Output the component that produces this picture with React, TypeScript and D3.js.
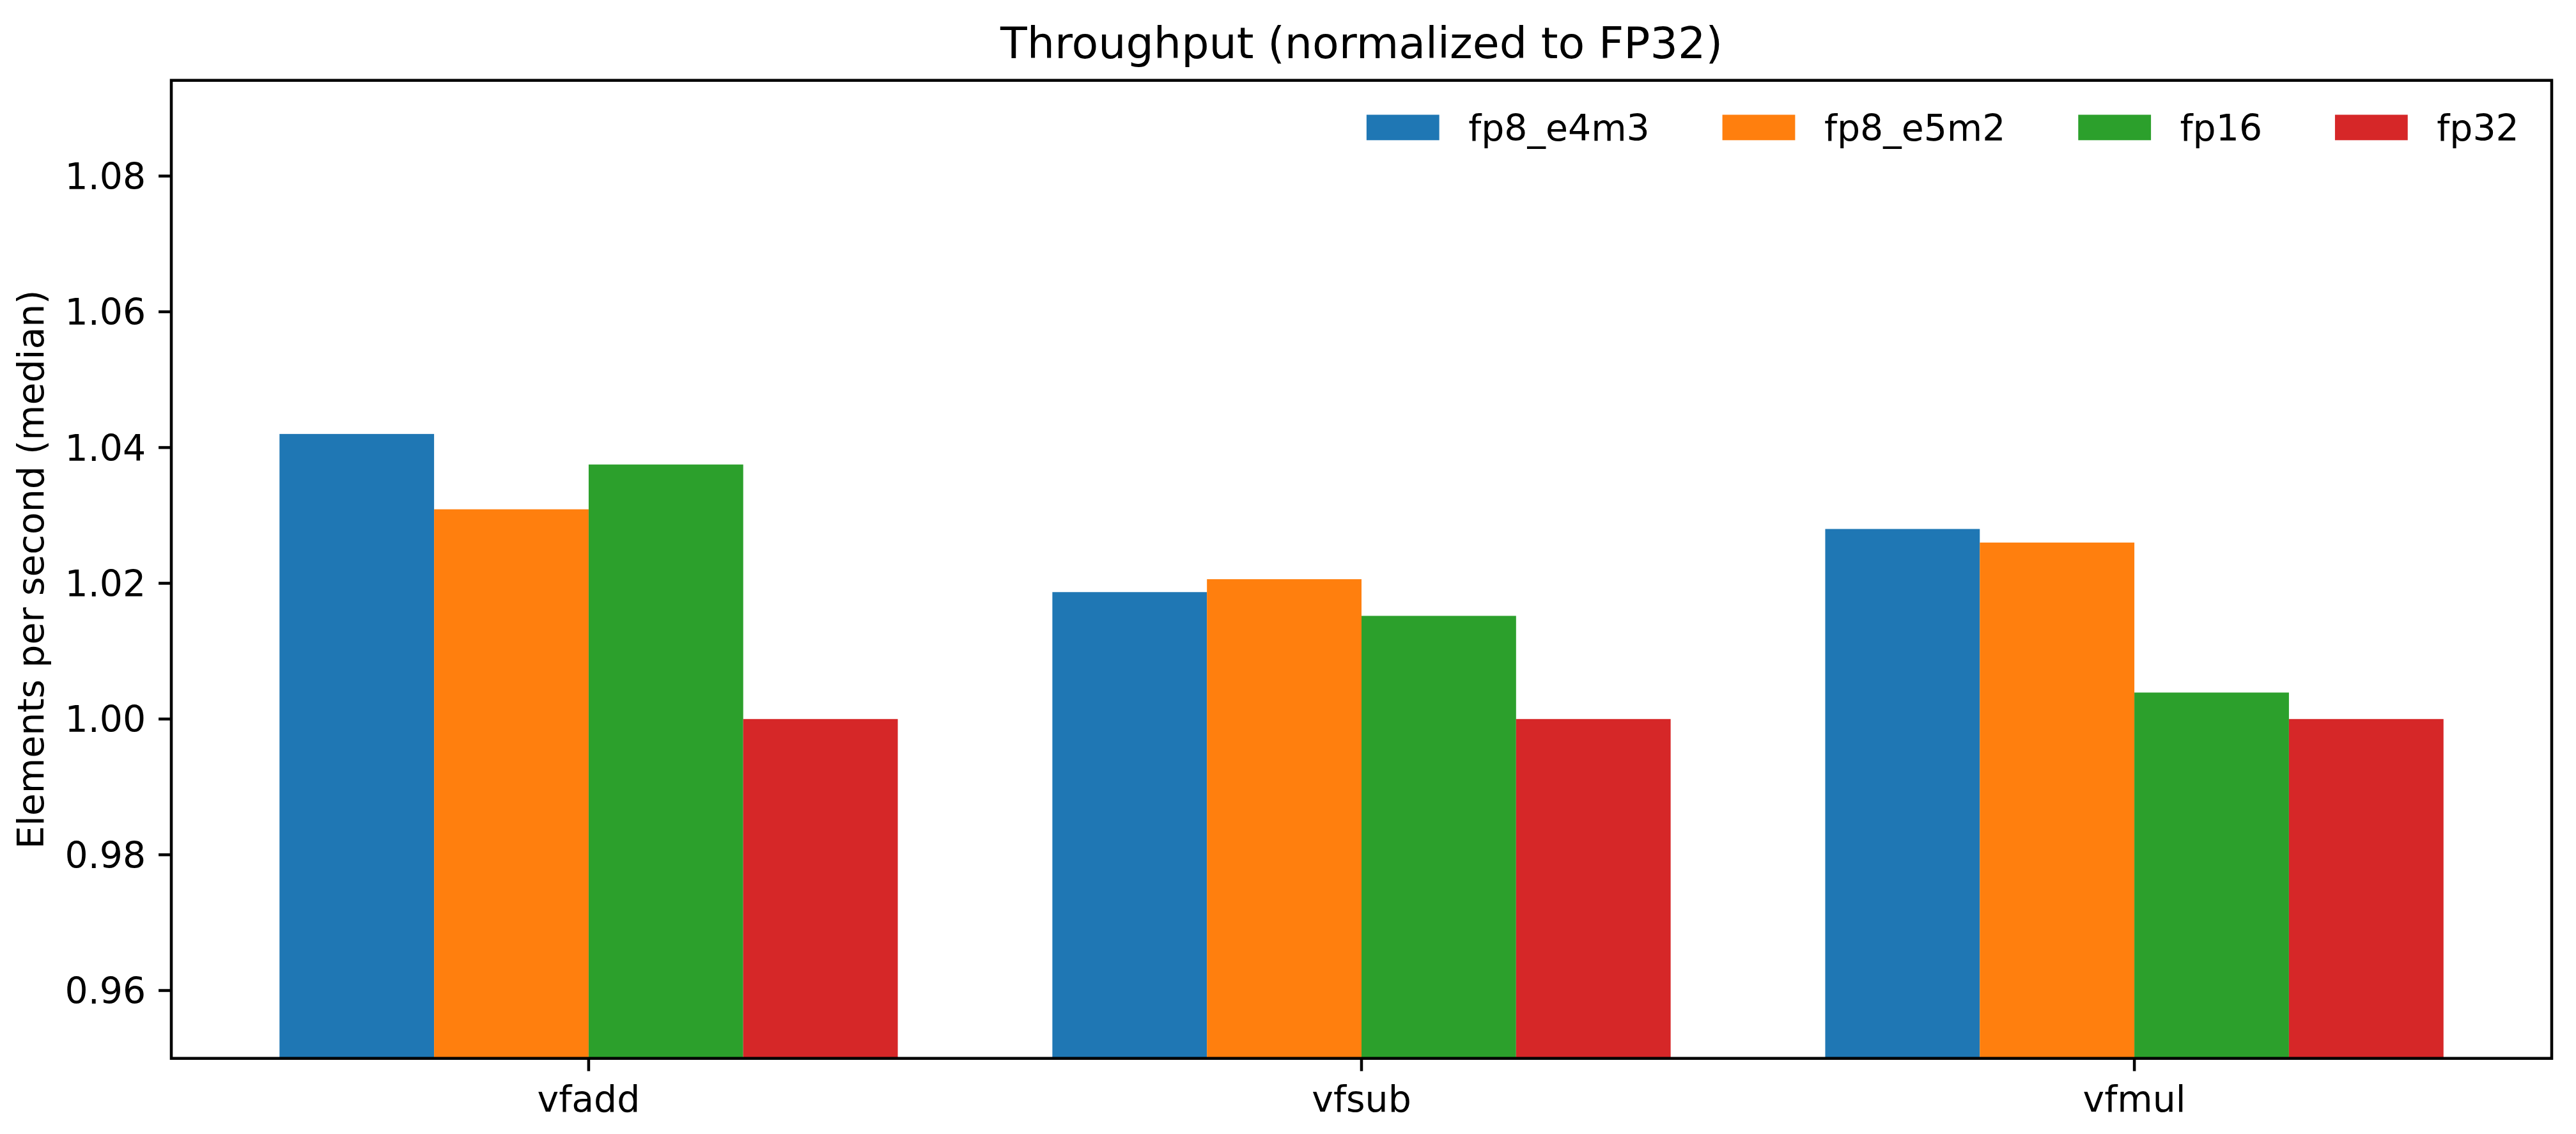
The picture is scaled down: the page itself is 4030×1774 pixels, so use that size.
import React, { useMemo } from "react";
import * as d3 from "d3";

const categories = ["vfadd", "vfsub", "vfmul"];
const seriesNames = ["fp8_e4m3", "fp8_e5m2", "fp16", "fp32"];
const fp8e4m3 = [1.042, 1.0187, 1.028];
const fp8e5m2 = [1.0309, 1.0206, 1.026];
const fp16 = [1.0375, 1.0152, 1.0039];
const fp32 = [1.0, 1.0, 1.0];
const seriesValues = [fp8e4m3, fp8e5m2, fp16, fp32];
const colors = ["#1f77b4", "#ff7f0e", "#2ca02c", "#d62728"];
const yTicks = [0.96, 0.98, 1.0, 1.02, 1.04, 1.06, 1.08];
const titleText = "Throughput (normalized to FP32)";
const yLabelText = "Elements per second (median)";

const W = 4030;
const H = 1774;
const FONT = "DejaVu Sans, Liberation Sans, sans-serif";
const FS = 56.9;
const TITLE_FS = FS * 1.2;
const LW = 0.08 * FS;
const TICK = 0.35 * FS;
const PAD = 0.35 * FS;

const left = 268;
const right = 3992;
const top = 125.7;
const bottom = 1655.7;

function measure(text: string, size: number): number {
  try {
    const c = document.createElement("canvas");
    const ctx = c.getContext("2d");
    if (ctx) {
      ctx.font = `${size}px "DejaVu Sans"`;
      return ctx.measureText(text).width;
    }
  } catch (e) {}
  return text.length * size * 0.6;
}

export default function App() {
  const barWidth = 0.2;
  const n = seriesNames.length;
  const x = d3.scaleLinear().domain([-0.54, categories.length - 1 + 0.54]).range([left, right]);
  const allVals = seriesValues.flat();
  const yMax = (d3.max(allVals) as number) * 1.05;
  const y = d3.scaleLinear().domain([0.95, yMax]).range([bottom, top]);
  const fmt = d3.format(".2f");

  const legend = useMemo(() => {
    const handle = 2.0 * FS;
    const pad = 0.8 * FS;
    const colSpace = 2.0 * FS;
    const widths = seriesNames.map((s) => measure(s, FS));
    const total =
      widths.reduce((a, w) => a + handle + pad + w, 0) + colSpace * (seriesNames.length - 1);
    let start = right - 0.5 * FS - 0.4 * FS - total;
    return seriesNames.map((s, i) => {
      const item = { name: s, x: start, tx: start + handle + pad, color: colors[i] };
      start += handle + pad + widths[i] + colSpace;
      return item;
    });
  }, []);

  const patchH = 0.7 * FS;
  const patchTop = 179.5;

  return (
    <svg
      width={W}
      height={H}
      style={{ position: "absolute", left: 0, top: 0, background: "#fff" }}
      fontFamily={FONT}
    >
      <rect x={0} y={0} width={W} height={H} fill="#fff" />
      <defs>
        <clipPath id="plotclip">
          <rect x={left} y={top} width={right - left} height={bottom - top} />
        </clipPath>
      </defs>
      <g clipPath="url(#plotclip)">
        {seriesValues.map((vals, j) =>
          vals.map((v, i) => {
            const cx = i + (j - (n - 1) / 2) * barWidth;
            const x0 = x(cx - barWidth / 2);
            const x1 = x(cx + barWidth / 2);
            return (
              <rect
                key={`${j}-${i}`}
                x={x0}
                y={y(v)}
                width={x1 - x0}
                height={y(0.95) - y(v)}
                fill={colors[j]}
              />
            );
          })
        )}
      </g>
      {yTicks.map((t) => (
        <g key={t}>
          <line x1={left - TICK} x2={left} y1={y(t)} y2={y(t)} stroke="#000" strokeWidth={LW} />
          <text x={left - TICK - PAD} y={y(t) + 20.5} fontSize={FS} textAnchor="end" fill="#000">
            {fmt(t)}
          </text>
        </g>
      ))}
      {categories.map((c, i) => (
        <g key={c}>
          <line x1={x(i)} x2={x(i)} y1={bottom} y2={bottom + TICK} stroke="#000" strokeWidth={LW} />
          <text x={x(i)} y={1739} fontSize={FS} textAnchor="middle" fill="#000">
            {c}
          </text>
        </g>
      ))}
      <rect
        x={left}
        y={top}
        width={right - left}
        height={bottom - top}
        fill="none"
        stroke="#000"
        strokeWidth={LW}
      />
      <text x={(left + right) / 2} y={91} fontSize={TITLE_FS} textAnchor="middle" fill="#000">
        {titleText}
      </text>
      <text
        transform={`translate(68, ${(top + bottom) / 2}) rotate(-90)`}
        fontSize={FS}
        textAnchor="middle"
        fill="#000"
      >
        {yLabelText}
      </text>
      {legend.map((it) => (
        <g key={it.name}>
          <rect x={it.x} y={patchTop} width={2.0 * FS} height={patchH} fill={it.color} />
          <text x={it.tx} y={220} fontSize={FS} fill="#000">
            {it.name}
          </text>
        </g>
      ))}
    </svg>
  );
}
